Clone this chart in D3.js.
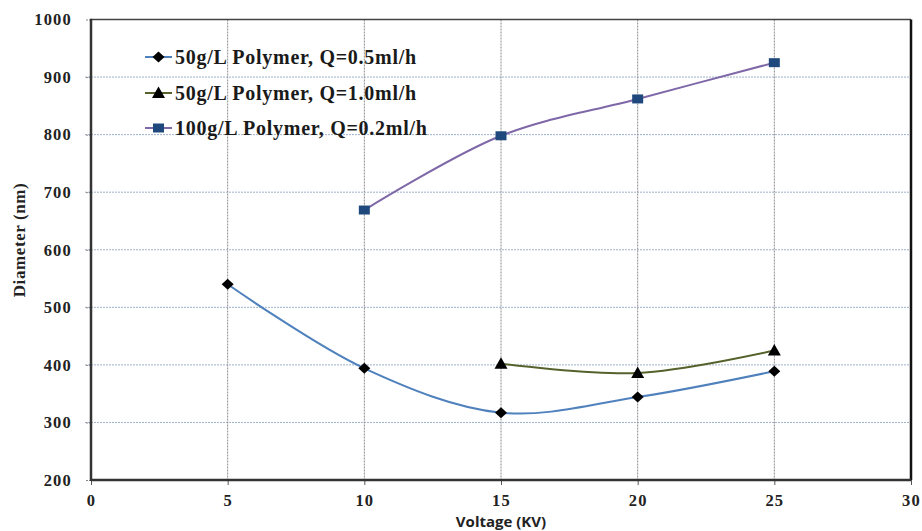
<!DOCTYPE html>
<html>
<head>
<meta charset="utf-8">
<script src="https://cdn.jsdelivr.net/npm/d3@7/dist/d3.min.js"></script>
<style>
  html, body { margin: 0; padding: 0; background: #ffffff; }
  svg { display: block; }
  .serif { font-family: "Liberation Serif", "Times New Roman", serif; font-weight: bold; }
</style>
</head>
<body>
<svg id="chart" width="922" height="531"></svg>
<script>
// data
const xTicks = [0, 5, 10, 15, 20, 25, 30];
const yTicks = [200, 300, 400, 500, 600, 700, 800, 900, 1000];

const s1Voltage = [5, 10, 15, 20, 25];
const s1Diameter = [540, 394, 317, 344, 389];

const s2Voltage = [15, 20, 25];
const s2Diameter = [402, 386, 425];

const s3Voltage = [10, 15, 20, 25];
const s3Diameter = [669, 798, 862, 925];

const seriesNames = [
  "50g/L Polymer, Q=0.5ml/h",
  "50g/L Polymer, Q=1.0ml/h",
  "100g/L Polymer, Q=0.2ml/h"
];

const W = 922, H = 531;
const m = { left: 91, right: 11, top: 19.5, bottom: 51 };

const svg = d3.select("#chart");

const x = d3.scaleLinear().domain([0, 30]).range([m.left, W - m.right]);
const y = d3.scaleLinear().domain([200, 1000]).range([H - m.bottom, m.top]);

// grid
svg.append("g")
  .selectAll("line")
  .data(yTicks.filter(d => d > 200 && d < 1000))
  .join("line")
  .attr("x1", m.left - 6).attr("x2", W - m.right)
  .attr("y1", d => y(d)).attr("y2", d => y(d))
  .attr("stroke", "#9fb2c9").attr("stroke-width", 1)
  .attr("stroke-dasharray", "2,1");

svg.append("g")
  .selectAll("line")
  .data(xTicks.filter(d => d > 0 && d < 30))
  .join("line")
  .attr("x1", d => x(d)).attr("x2", d => x(d))
  .attr("y1", m.top).attr("y2", H - m.bottom)
  .attr("stroke", "#8c8c8c").attr("stroke-width", 1)
  .attr("stroke-dasharray", "2,1");

// y axis labels + ticks
const yAxis = svg.append("g")
  .attr("transform", `translate(${m.left},0)`)
  .call(d3.axisLeft(y).tickValues(yTicks).tickFormat(d3.format("d")).tickSize(6).tickPadding(13));
yAxis.select(".domain").remove();
yAxis.selectAll(".tick line").attr("stroke", "#888").attr("stroke-dasharray", "2,1");
yAxis.selectAll("text")
  .attr("class", "serif")
  .style("font-size", "16.5px").style("letter-spacing", "1.2px").attr("fill", "#222");

// x axis labels + ticks
const xAxis = svg.append("g")
  .attr("transform", `translate(0,${H - m.bottom})`)
  .call(d3.axisBottom(x).tickValues(xTicks).tickFormat(d3.format("d")).tickSize(5).tickPadding(9));
xAxis.select(".domain").remove();
xAxis.selectAll(".tick line").attr("stroke", "#555");
xAxis.selectAll("text")
  .attr("class", "serif")
  .style("font-size", "16.5px").style("letter-spacing", "1.2px").attr("fill", "#222");

// plot border
svg.append("line")
  .attr("x1", m.left).attr("x2", W - m.right)
  .attr("y1", m.top).attr("y2", m.top)
  .attr("stroke", "#444").attr("stroke-width", 1.5);
svg.append("line")
  .attr("x1", W - m.right).attr("x2", W - m.right)
  .attr("y1", m.top).attr("y2", H - m.bottom)
  .attr("stroke", "#111").attr("stroke-width", 2.5);
svg.append("line")
  .attr("x1", m.left).attr("x2", m.left)
  .attr("y1", m.top - 0.75).attr("y2", H - m.bottom + 1)
  .attr("stroke", "#333").attr("stroke-width", 2.5);
svg.append("line")
  .attr("x1", m.left).attr("x2", W - m.right)
  .attr("y1", H - m.bottom).attr("y2", H - m.bottom)
  .attr("stroke", "#333").attr("stroke-width", 2.5);

// markers
const diamond = "M0,-5.5L6,0L0,5.5L-6,0Z";
const triangle = "M0,-6.5L6.5,5L-6.5,5Z";
const square = "M-5.5,-4.5H5.5V4.5H-5.5Z";

const series = [
  { name: seriesNames[0], xs: s1Voltage, ys: s1Diameter, line: "#4f81bd", mark: diamond, fill: "#000" },
  { name: seriesNames[1], xs: s2Voltage, ys: s2Diameter, line: "#56622b", mark: triangle, fill: "#000" },
  { name: seriesNames[2], xs: s3Voltage, ys: s3Diameter, line: "#7e68a8", mark: square, fill: "#1f497d" }
];

const lineGen = d3.line()
  .x(d => x(d[0])).y(d => y(d[1]))
  .curve(d3.curveCatmullRom.alpha(0.5));

series.forEach(s => {
  const pts = s.xs.map((v, i) => [v, s.ys[i]]);
  svg.append("path")
    .attr("d", lineGen(pts))
    .attr("fill", "none")
    .attr("stroke", s.line).attr("stroke-width", 2);
  svg.append("g")
    .selectAll("path")
    .data(pts)
    .join("path")
    .attr("d", s.mark)
    .attr("transform", d => `translate(${x(d[0])},${y(d[1])})`)
    .attr("fill", s.fill);
});

// legend
const legRows = [57, 93, 128];
const leg = svg.append("g");
series.forEach((s, i) => {
  const g = leg.append("g").attr("transform", `translate(145,${legRows[i]})`);
  g.append("line").attr("x1", 0).attr("x2", 27).attr("y1", 0).attr("y2", 0)
    .attr("stroke", s.line).attr("stroke-width", 2);
  g.append("path").attr("d", s.mark).attr("transform", "translate(13.5,0)").attr("fill", s.fill);
  g.append("text").text(s.name)
    .attr("class", "serif")
    .attr("x", 30).attr("y", 6.5)
    .style("font-size", "20px").style("letter-spacing", "0.75px").attr("fill", "#1a1a1a");
});

// axis titles
svg.append("text")
  .text("Voltage (KV)")
  .attr("x", x(15)).attr("y", 527)
  .attr("text-anchor", "middle")
  .attr("font-family", "'Open Sans', 'Liberation Sans', sans-serif")
  .attr("font-weight", "bold").attr("font-size", 15).attr("fill", "#222");

svg.append("text")
  .text("Diameter (nm)")
  .attr("class", "serif")
  .attr("transform", "translate(25,240) rotate(-90)")
  .attr("text-anchor", "middle")
  .style("font-size", "17px").style("letter-spacing", "0.6px").attr("fill", "#222");
</script>
</body>
</html>
